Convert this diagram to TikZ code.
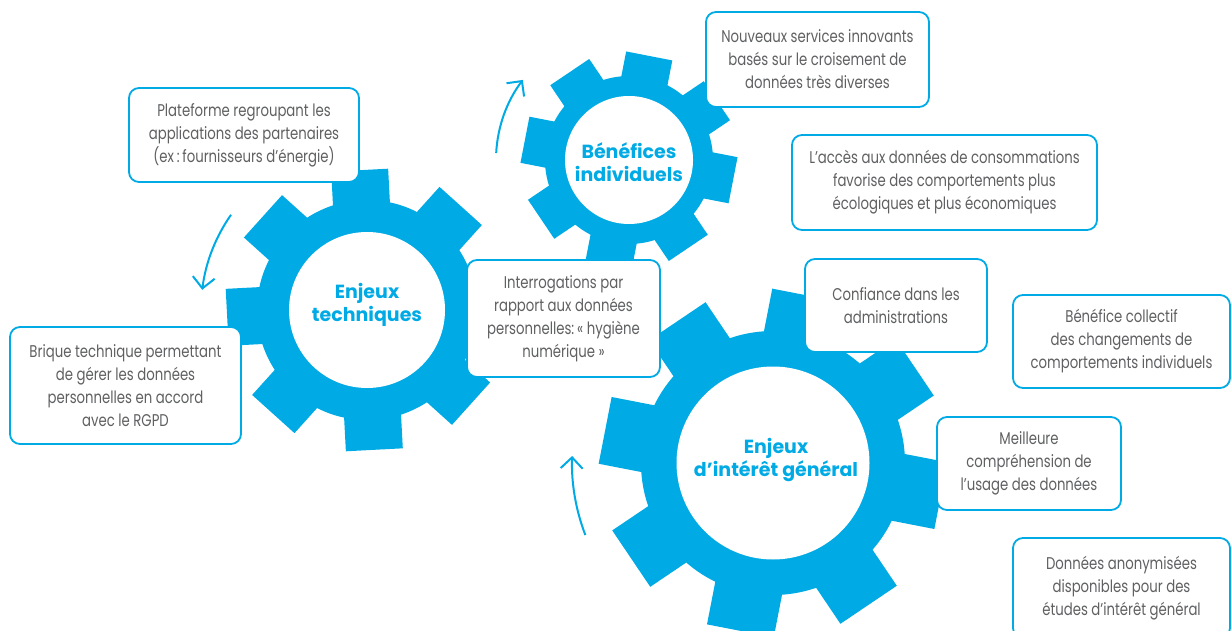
\documentclass[tikz,border=0pt]{standalone}
\usepackage{fontspec}
\usetikzlibrary{arrows.meta,calc}
\newfontfamily\bodyfont[FakeStretch=0.78]{Poppins}
\newfontfamily\titlefont{Poppins}
\definecolor{gearblue}{RGB}{0,170,228}
\definecolor{textgray}{RGB}{95,96,98}

\tikzset{
  infobox/.style={draw=gearblue, line width=1.8pt, rounded corners=10pt, fill=white,
    text=textgray, align=center, inner sep=0pt,
    font=\bodyfont\fontsize{17}{23}\selectfont},
  geartitle/.style={text=gearblue, align=center,
    font=\titlefont\bfseries\fontsize{19}{23.5}\selectfont},
  rotarrow/.style={draw=gearblue, line width=2pt,
    -{Straight Barb[length=11pt,width=22pt]}},
}

% gear: #1 centre, #2 hole radius, #3 root radius, #4 tip radius,
% #5 half tooth width, #6 angle of the first tooth
\newcommand\gearshape[6]{%
  \fill[gearblue] (#1) circle[radius=#3];
  \foreach \k in {0,...,7}{%
    \fill[gearblue, shift={(#1)}, rotate={#6+45*\k}] (#3-6,-#5) rectangle (#4,#5);
  }
  \fill[white] (#1) circle[radius=#2];
}

\begin{document}
\begin{tikzpicture}[x=1pt,y=1pt]
\useasboundingbox (0,0) rectangle (1231,630);

% gear centres
\coordinate (g1) at (367,320);
\coordinate (g2) at (629,470);
\coordinate (g3) at (773,167);

% the three gears
\gearshape{g1}{78}{110}{140}{28.5}{3}
\gearshape{g2}{64}{84}{106}{23.5}{34}
\gearshape{g3}{96.5}{132}{171}{34}{34}

% gear titles
\node[geartitle] (t1) at (367,325) {Enjeux\\techniques};
\node[geartitle] (t2) at (629,468) {Bénéfices\\individuels};
\node[geartitle] (t3) at (776,170) {Enjeux\\d’intérêt général};

% rotation arrows
\coordinate (a1) at ($(g1)+(145:166)$);
\coordinate (a2) at ($(g2)+(177:133)$);
\coordinate (a3) at ($(g3)+(201:201)$);
\draw[rotarrow] (a1) arc[start angle=145, end angle=173, radius=166];
\draw[rotarrow] (a2) arc[start angle=177, end angle=143, radius=133];
\draw[rotarrow] (a3) arc[start angle=201, end angle=178, radius=201];

% text boxes
\node[infobox, minimum width=230, minimum height=94] (plat) at (244,495)
  {Plateforme regroupant les\\applications des partenaires\\(ex\,:\,fournisseurs d’énergie)};
\node[infobox, minimum width=231, minimum height=117] (brique) at (125.5,244.5)
  {Brique technique permettant\\de gérer les données\\personnelles en accord\\avec le RGPD};
\node[infobox, minimum width=223, minimum height=95] (nouv) at (817.5,570.5)
  {Nouveaux services innovants\\basés sur le croisement de\\données très diverses};
\node[infobox, minimum width=305, minimum height=95] (acces) at (944.5,447.5)
  {L’accès aux données de consommations\\favorise des comportements plus\\écologiques et plus économiques};
\node[infobox, minimum width=193, minimum height=117] (interro) at (563.5,311.5)
  {Interrogations par\\rapport aux données\\personnelles:\,« hygiène\\numérique »};
\node[infobox, minimum width=182, minimum height=93] (conf) at (896,324.5)
  {Confiance dans les\\administrations};
\node[infobox, minimum width=217, minimum height=93] (bencol) at (1121.5,288.5)
  {Bénéfice collectif\\des changements de\\comportements individuels};
\node[infobox, minimum width=184, minimum height=93] (meil) at (1029,166.5)
  {Meilleure\\compréhension de\\l’usage des données};
\node[infobox, minimum width=217, minimum height=100] (anon) at (1121.5,42)
  {Données anonymisées\\disponibles pour des\\études d’intérêt général};
\end{tikzpicture}
\end{document}
